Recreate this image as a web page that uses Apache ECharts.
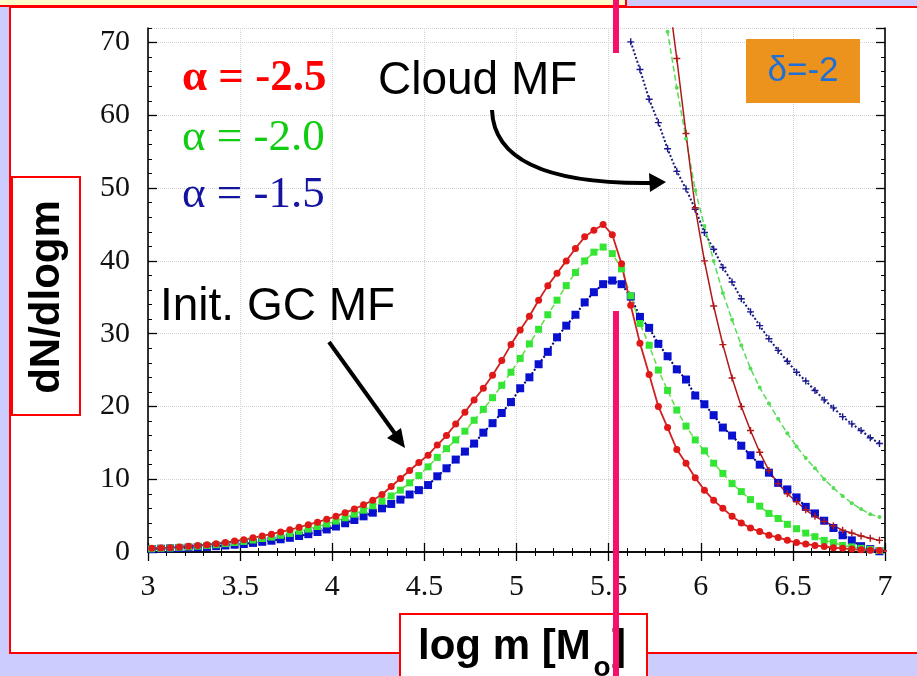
<!DOCTYPE html>
<html>
<head>
<meta charset="utf-8">
<script src="https://cdn.jsdelivr.net/npm/echarts@6/dist/echarts.min.js"></script>
<style>
  html, body { margin: 0; padding: 0; }
  #chart { width: 917px; height: 676px; }
</style>
</head>
<body>
<div id="chart"></div>
<script>
// log m grid of the initial GC mass functions (step 0.05)
const xInit = [
  3.02, 3.07, 3.12, 3.17, 3.22, 3.27, 3.32, 3.37, 3.42, 3.47,
  3.52, 3.57, 3.62, 3.67, 3.72, 3.77, 3.82, 3.87, 3.92, 3.97,
  4.02, 4.07, 4.12, 4.17, 4.22, 4.27, 4.32, 4.37, 4.42, 4.47,
  4.52, 4.57, 4.62, 4.67, 4.72, 4.77, 4.82, 4.87, 4.92, 4.97,
  5.02, 5.07, 5.12, 5.17, 5.22, 5.27, 5.32, 5.37, 5.42, 5.47,
  5.52, 5.57, 5.62, 5.67, 5.72, 5.77, 5.82, 5.87, 5.92, 5.97,
  6.02, 6.07, 6.12, 6.17, 6.22, 6.27, 6.32, 6.37, 6.42, 6.47,
  6.52, 6.57, 6.62, 6.67, 6.72, 6.77, 6.82, 6.87, 6.92, 6.97,
  7.02
];
const initA25 = [
  0.5, 0.55, 0.6, 0.7, 0.8, 0.9, 1.0, 1.15, 1.3, 1.5,
  1.7, 1.95, 2.2, 2.45, 2.75, 3.05, 3.4, 3.75, 4.1, 4.5,
  4.9, 5.4, 5.9, 6.5, 7.1, 7.9, 9.0, 10.1, 11.2, 12.3,
  13.3, 14.7, 16.0, 17.6, 19.2, 20.9, 22.5, 24.3, 26.3, 28.5,
  30.5, 32.4, 34.6, 36.6, 38.3, 40.0, 41.7, 43.3, 44.2, 45.0,
  43.6, 39.6, 33.9, 28.7, 24.4, 20.0, 17.1, 14.1, 12.2, 10.2,
  8.5, 7.1, 6.0, 4.9, 4.0, 3.3, 2.8, 2.3, 2.0, 1.6,
  1.3, 1.1, 0.9, 0.75, 0.6, 0.5, 0.4, 0.3, 0.25, 0.2,
  0.15
];
const initA20 = [
  0.45, 0.5, 0.55, 0.65, 0.7, 0.8, 0.9, 1.0, 1.15, 1.3,
  1.45, 1.65, 1.85, 2.05, 2.3, 2.55, 2.85, 3.15, 3.5, 3.85,
  4.25, 4.7, 5.2, 5.75, 6.35, 7.0, 7.7, 8.5, 9.5, 10.5,
  11.7, 13.0, 14.2, 15.4, 16.6, 18.1, 19.6, 21.2, 22.9, 24.7,
  26.6, 28.6, 30.6, 32.6, 34.6, 36.6, 38.4, 40.0, 41.2, 41.9,
  41.0, 38.9, 35.2, 31.4, 28.4, 25.0, 22.2, 19.5, 17.3, 15.4,
  13.9, 12.2, 10.8, 9.4, 8.3, 7.2, 6.3, 5.3, 4.6, 3.8,
  3.2, 2.6, 2.1, 1.6, 1.3, 0.9, 0.7, 0.5, 0.35, 0.2,
  0.1
];
const initA15 = [
  0.4, 0.45, 0.5, 0.55, 0.6, 0.65, 0.7, 0.8, 0.9, 1.0,
  1.1, 1.25, 1.4, 1.55, 1.75, 1.95, 2.2, 2.45, 2.75, 3.1,
  3.5, 3.95, 4.4, 4.9, 5.4, 6.0, 6.6, 7.2, 7.9, 8.5,
  9.2, 10.4, 11.5, 12.7, 13.8, 14.9, 16.4, 17.7, 19.1, 20.6,
  22.5, 24.0, 25.8, 27.5, 29.5, 31.1, 32.6, 34.3, 35.7, 36.8,
  37.3, 36.8, 35.1, 32.3, 30.8, 28.6, 26.9, 25.1, 23.7, 21.5,
  20.3, 18.8, 17.1, 16.0, 14.6, 13.3, 12.0, 10.9, 9.5, 8.6,
  7.5, 6.2, 5.3, 4.3, 3.3, 2.3, 1.6, 0.8, 0.4, 0.1,
  0.0
];

// log m grid of the cloud mass functions
const xCloud = [
  5.62, 5.67, 5.72, 5.77, 5.82, 5.87, 5.92, 5.97, 6.02, 6.07,
  6.12, 6.17, 6.22, 6.27, 6.32, 6.37, 6.42, 6.47, 6.52, 6.57,
  6.62, 6.67, 6.72, 6.77, 6.82, 6.87, 6.92, 6.97
];
const cloudA25 = [
  null, null, null, null, 77.5, 67.8, 57.5, 47.3, 40.0, 33.8,
  28.5, 23.9, 20.0, 16.7, 13.7, 11.2, 9.4, 8.0, 6.9, 5.8,
  4.9, 4.2, 3.6, 3.0, 2.6, 2.2, 1.9, 1.6
];
const cloudA20 = [
  null, null, null, 79.0, 71.5, 63.8, 56.8, 49.7, 44.8, 40.0,
  35.6, 31.9, 28.4, 25.2, 22.6, 20.4, 18.3, 16.3, 14.5, 12.9,
  11.5, 10.0, 8.8, 7.7, 6.7, 5.9, 5.2, 4.8
];
const cloudA15 = [
  70.1, 66.3, 62.2, 59.0, 55.4, 52.3, 49.9, 47.1, 43.9, 41.6,
  39.1, 37.1, 34.8, 33.0, 31.1, 29.3, 27.7, 26.2, 24.7, 23.5,
  22.2, 20.9, 19.8, 18.6, 17.6, 16.7, 15.7, 14.9
];

const legendLabels = ['\u03b1 = -2.5', '\u03b1 = -2.0', '\u03b1 = -1.5'];

const pairs = (xs, ys) => xs.map((x, i) => [x, ys[i]]);

const plusPath = 'path://M4,0H6V4H10V6H6V10H4V6H0V4H4Z';
const pink = '#f5106a';

const chart = echarts.init(document.getElementById('chart'));

const majorTick = { show: true, inside: true, length: 9, lineStyle: { color: '#000', width: 1.3 } };
const minorTick = { show: true, inside: true, length: 4, lineStyle: { color: '#000', width: 1 } };
const frameLine = { show: true, lineStyle: { color: '#000', width: 1.6 } };
const gridLine = { show: true, lineStyle: { color: '#d2d2d2', type: 'dotted', width: 1 } };
const tickFont = { fontFamily: 'Liberation Serif', fontSize: 30, color: '#111' };

function xAx(position, interval, opts) {
  return Object.assign({
    type: 'value', min: 3, max: 7, interval: interval, position: position,
    axisLine: { show: false }, axisTick: minorTick,
    axisLabel: { show: false }, splitLine: { show: false }
  }, opts);
}
function yAx(position, interval, opts) {
  return Object.assign({
    type: 'value', min: 0, max: 72, interval: interval, position: position,
    axisLine: { show: false }, axisTick: minorTick,
    axisLabel: { show: false }, splitLine: { show: false }
  }, opts);
}

const option = {
  animation: false,
  backgroundColor: '#ccccff',
  grid: { left: 148, right: 32, top: 28, bottom: 124 },
  xAxis: [
    xAx('bottom', 0.5, {
      axisLine: frameLine, axisTick: majorTick, splitLine: gridLine,
      axisLabel: Object.assign({ show: true, margin: 20 }, tickFont)
    }),
    xAx('bottom', 0.1, {}),
    xAx('top', 0.5, { axisLine: frameLine, axisTick: majorTick }),
    xAx('top', 0.1, {})
  ],
  yAxis: [
    yAx('left', 10, {
      axisLine: frameLine, axisTick: majorTick, splitLine: gridLine,
      axisLabel: Object.assign({ show: true, margin: 18, showMaxLabel: false }, tickFont)
    }),
    yAx('left', 2, {}),
    yAx('right', 10, { axisLine: frameLine, axisTick: majorTick }),
    yAx('right', 2, {})
  ],
  series: [
    {
      type: 'line', data: pairs(xInit, initA15), symbol: 'rect', symbolSize: 8,
      itemStyle: { color: '#0a10d0' },
      lineStyle: { color: '#000070', width: 2, type: 'dotted' }
    },
    {
      type: 'line', data: pairs(xInit, initA20), symbol: 'rect', symbolSize: 7,
      itemStyle: { color: '#33e633' },
      lineStyle: { color: '#66dd44', width: 1.5, type: 'dashed' }
    },
    {
      type: 'line', data: pairs(xInit, initA25), symbol: 'circle', symbolSize: 7,
      itemStyle: { color: '#e01818' },
      lineStyle: { color: '#d02020', width: 1.8 }
    },
    {
      type: 'line', data: pairs(xCloud, cloudA15), symbol: plusPath, symbolSize: 7,
      itemStyle: { color: '#1a1a90' },
      lineStyle: { color: '#1a1a80', width: 2, type: 'dotted' }
    },
    {
      type: 'line', data: pairs(xCloud, cloudA20), symbol: 'circle', symbolSize: 4,
      itemStyle: { color: '#55dd55' },
      lineStyle: { color: '#55dd55', width: 1.5, type: 'dashed' }
    },
    {
      type: 'line', data: pairs(xCloud, cloudA25), symbol: plusPath, symbolSize: 7,
      itemStyle: { color: '#b01818' },
      lineStyle: { color: '#b01818', width: 1.5 }
    }
  ],
  graphic: [
    // slide panels
    { type: 'rect', z: -10, shape: { x: 10, y: 7, width: 920, height: 646 },
      style: { fill: '#fff', stroke: '#ff0000', lineWidth: 2 } },
    { type: 'rect', z: -10, shape: { x: -5, y: -10, width: 631, height: 16 },
      style: { fill: '#ffffcc', stroke: '#ff0000', lineWidth: 2 } },
    // axis title boxes
    { type: 'rect', z: 50, shape: { x: 12, y: 177, width: 68, height: 238 },
      style: { fill: '#fff', stroke: '#ff0000', lineWidth: 2 } },
    { type: 'text', z: 51, x: 47, y: 297, rotation: Math.PI / 2,
      style: { text: 'dN/dlogm', font: 'bold 42px Liberation Sans', fill: '#000',
        textAlign: 'center', textVerticalAlign: 'middle' } },
    { type: 'rect', z: 50, shape: { x: 400, y: 614, width: 247, height: 70 },
      style: { fill: '#fff', stroke: '#ff0000', lineWidth: 2 } },
    { type: 'text', z: 51, x: 418, y: 647,
      style: { text: 'log m [M', font: 'bold 42px Liberation Sans', fill: '#000',
        textAlign: 'left', textVerticalAlign: 'middle' } },
    { type: 'text', z: 51, x: 602, y: 668,
      style: { text: 'o', font: 'bold 28px Liberation Sans', fill: '#000',
        textAlign: 'center', textVerticalAlign: 'middle' } },
    { type: 'text', z: 51, x: 612, y: 647,
      style: { text: ']', font: 'bold 42px Liberation Sans', fill: '#000',
        textAlign: 'left', textVerticalAlign: 'middle' } },
    // curve labels
    { type: 'text', z: 40, x: 182, y: 78,
      style: { text: legendLabels[0], font: 'bold 45px Liberation Serif', fill: '#ff0000',
        textAlign: 'left', textVerticalAlign: 'middle' } },
    { type: 'text', z: 40, x: 182, y: 138,
      style: { text: legendLabels[1], font: '45px Liberation Serif', fill: '#11cc11',
        textAlign: 'left', textVerticalAlign: 'middle' } },
    { type: 'text', z: 40, x: 182, y: 195,
      style: { text: legendLabels[2], font: '45px Liberation Serif', fill: '#1414a0',
        textAlign: 'left', textVerticalAlign: 'middle' } },
    { type: 'text', z: 40, x: 378, y: 81,
      style: { text: 'Cloud MF', font: '46px Liberation Sans', fill: '#000',
        textAlign: 'left', textVerticalAlign: 'middle' } },
    { type: 'text', z: 40, x: 160, y: 307,
      style: { text: 'Init. GC MF', font: '46px Liberation Sans', fill: '#000',
        textAlign: 'left', textVerticalAlign: 'middle' } },
    { type: 'rect', z: 40, shape: { x: 746, y: 39, width: 114, height: 64 },
      style: { fill: '#ec931e' } },
    { type: 'text', z: 41, x: 803, y: 71,
      style: { text: '\u03b4=-2', font: '35px Liberation Sans', fill: '#1f6fd6',
        textAlign: 'center', textVerticalAlign: 'middle' } },
    // arrows
    { type: 'bezierCurve', z: 40,
      shape: { x1: 492, y1: 110, cpx1: 494, cpy1: 168, cpx2: 565, cpy2: 184, x2: 651, y2: 183 },
      style: { stroke: '#000', lineWidth: 4, fill: null } },
    { type: 'polygon', z: 40, shape: { points: [[666, 182], [649, 173], [650, 192]] },
      style: { fill: '#000' } },
    { type: 'line', z: 40, shape: { x1: 329, y1: 342, x2: 396, y2: 435 },
      style: { stroke: '#000', lineWidth: 4 } },
    { type: 'polygon', z: 40, shape: { points: [[405, 448], [387, 438], [401, 428]] },
      style: { fill: '#000' } },
    // pink markers
    { type: 'rect', z: 60, shape: { x: 613, y: 0, width: 6, height: 53 }, style: { fill: pink } },
    { type: 'rect', z: 60, shape: { x: 613, y: 311, width: 6, height: 370 }, style: { fill: pink } }
  ]
};

chart.setOption(option);
</script>
</body>
</html>
